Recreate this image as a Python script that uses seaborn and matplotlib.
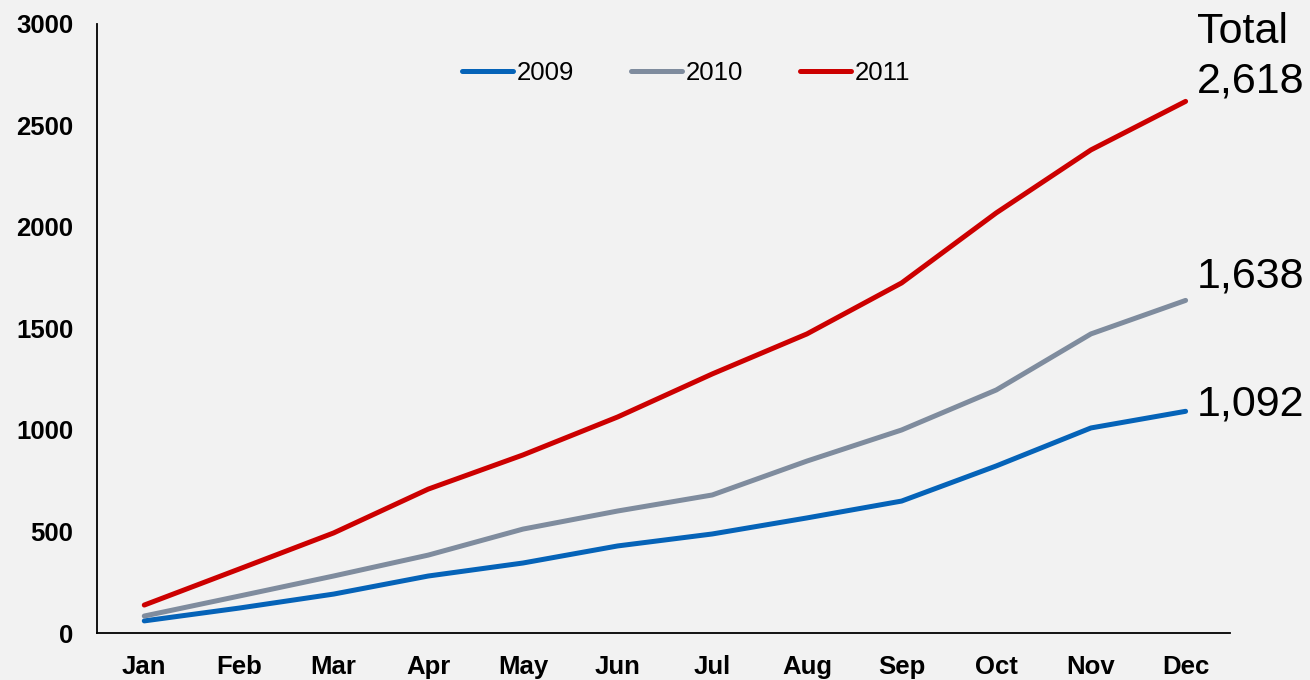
import matplotlib
matplotlib.use("Agg")
import matplotlib.pyplot as plt
import pandas as pd
import seaborn as sns

# Cumulative values per month
months = ["Jan", "Feb", "Mar", "Apr", "May", "Jun",
          "Jul", "Aug", "Sep", "Oct", "Nov", "Dec"]
years = ["2009", "2010", "2011"]
vals_2009 = [60, 123, 192, 281, 345, 429, 488, 567, 650, 823, 1010, 1092]
vals_2010 = [84, 182, 281, 384, 512, 601, 680, 847, 1000, 1197, 1473, 1638]
vals_2011 = [138, 315, 493, 709, 877, 1064, 1276, 1473, 1724, 2069, 2379, 2618]
totals = ["1,092", "1,638", "2,618"]

colors = {"2009": "#0563b8", "2010": "#7f8c9e", "2011": "#cc0000"}

df = pd.DataFrame({
    "Month": months * 3,
    "Value": vals_2009 + vals_2010 + vals_2011,
    "Year": [y for y in years for _ in months],
})

sns.set_theme(style="white")
plt.rcParams["font.family"] = ["Liberation Sans", "DejaVu Sans"]
plt.rcParams["text.color"] = "black"
plt.rcParams["xtick.color"] = "black"
plt.rcParams["ytick.color"] = "black"

fig = plt.figure(figsize=(13.1, 6.8), dpi=100, facecolor="#f2f2f2")
ax = fig.add_axes([0.074, 0.069, 0.865, 0.896])
ax.set_facecolor("#f2f2f2")

sns.lineplot(data=df, x="Month", y="Value", hue="Year", palette=colors,
             linewidth=3.6, sort=False, ax=ax)

ax.set_xlim(-0.5, 11.47)
ax.set_ylim(0, 3000)
ax.set_yticks(range(0, 3001, 500))
ax.set_xlabel("")
ax.set_ylabel("")
ax.tick_params(axis="y", length=0, pad=17, labelsize=18.5)
ax.tick_params(axis="x", length=0, pad=16, labelsize=18.5)
for lab in ax.get_xticklabels() + ax.get_yticklabels():
    lab.set_fontweight("bold")

for side in ["top", "right"]:
    ax.spines[side].set_visible(False)
for side in ["left", "bottom"]:
    ax.spines[side].set_color("black")
    ax.spines[side].set_linewidth(1.3)

# End-of-line totals
ends = [vals_2009[-1], vals_2010[-1], vals_2011[-1]]
offsets = [5, 17, 14]
for val, txt, dy in zip(ends, totals, offsets):
    ax.annotate(txt, xy=(11, val), xytext=(8, dy), textcoords="offset points",
                ha="left", va="center", fontsize=31, annotation_clip=False)
ax.annotate("Total", xy=(11, ends[2]), xytext=(8, 50), textcoords="offset points",
            ha="left", va="center", fontsize=31, annotation_clip=False)

leg = ax.legend(loc="center", bbox_to_anchor=(0.52, 0.92), ncol=3,
                frameon=False, fontsize=18.5, handlelength=2.0,
                handletextpad=0.15, columnspacing=2.2)
for line in leg.get_lines():
    line.set_linewidth(3.6)
    line.set_solid_capstyle("round")

fig.savefig("out.png", dpi=100, facecolor=fig.get_facecolor())
